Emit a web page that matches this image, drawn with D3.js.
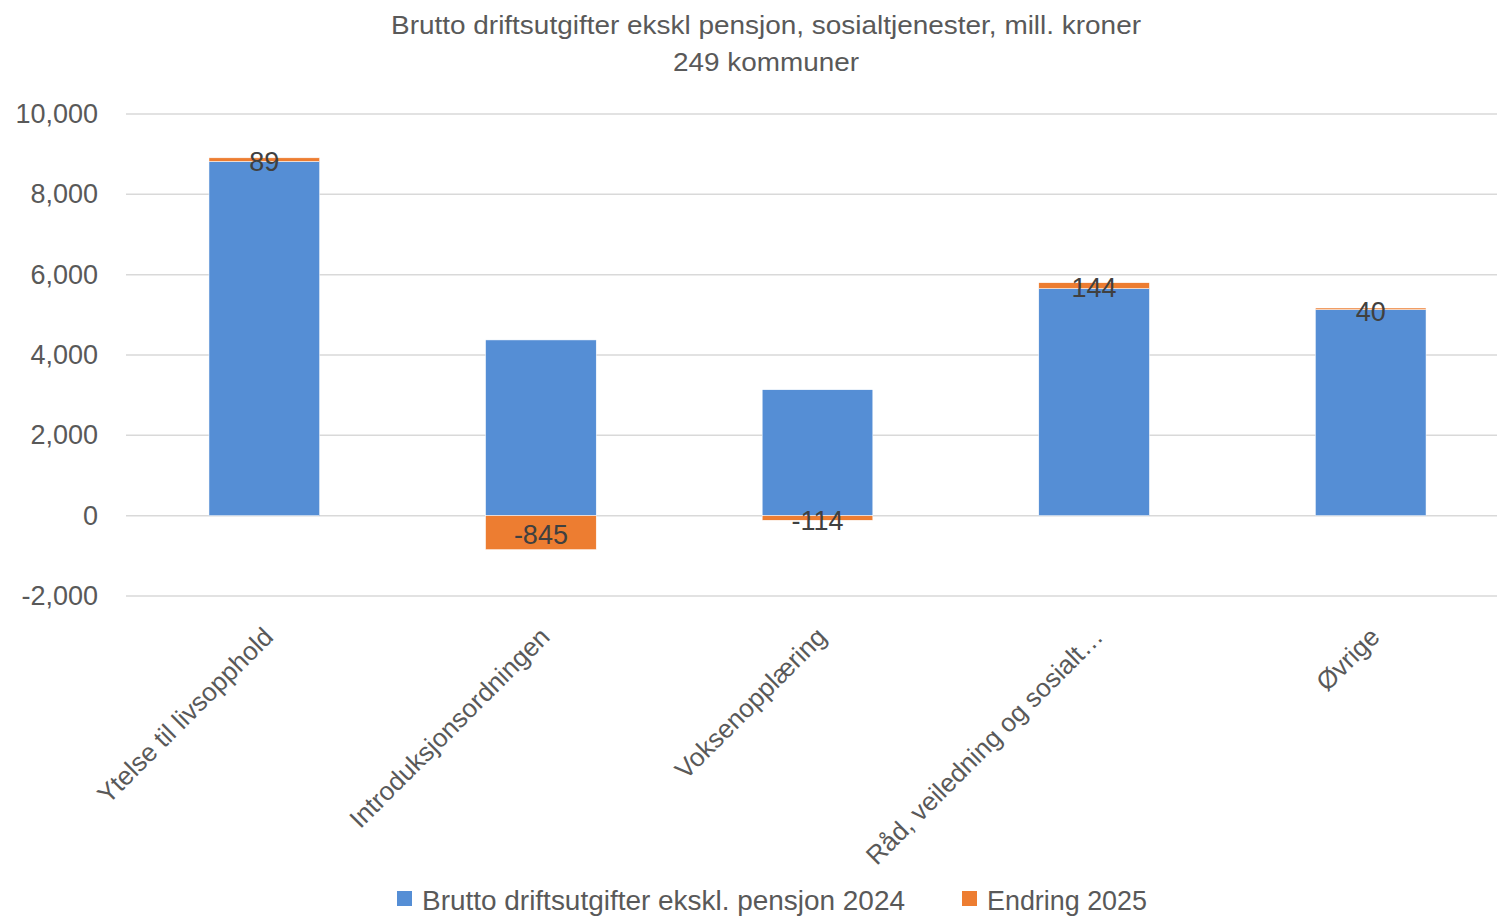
<!DOCTYPE html>
<html>
<head>
<meta charset="utf-8">
<script src="https://cdn.jsdelivr.net/npm/d3@7"></script>
<style>
  body { margin: 0; background: #fff; }
  svg text { fill: #595959; }
</style>
</head>
<body>
<div id="chart"></div>
<script>
// data
const categories = ["Ytelse til livsopphold", "Introduksjonsordningen", "Voksenopplæring", "Råd, veiledning og sosialt…", "Øvrige"];
const base2024 = [8820, 4375, 3135, 5655, 5130];
const change2025 = [89, -845, -114, 144, 40];
const yTicks = [-2000, 0, 2000, 4000, 6000, 8000, 10000];
const seriesNames = ["Brutto driftsutgifter ekskl. pensjon 2024", "Endring 2025"];
const colors = ["#558ED5", "#ED7D31"];

const W = 1497, H = 916;
const font = "'Liberation Sans', Arial, sans-serif";

const svg = d3.select("#chart").append("svg")
    .attr("width", W)
    .attr("height", H);

const x = d3.scaleBand()
    .domain(categories)
    .range([126, 1509])
    .paddingInner(0.6)
    .paddingOuter(0.3);

const y = d3.scaleLinear()
    .domain([-2000, 10000])
    .range([596, 114]);

// title
svg.append("text")
    .attr("x", 766).attr("y", 34)
    .attr("text-anchor", "middle")
    .style("font-family", font)
    .style("font-size", "26px")
    .attr("textLength", 750)
    .attr("lengthAdjust", "spacingAndGlyphs")
    .text("Brutto driftsutgifter ekskl pensjon, sosialtjenester, mill. kroner");
svg.append("text")
    .attr("x", 766).attr("y", 71)
    .attr("text-anchor", "middle")
    .style("font-family", font)
    .style("font-size", "26px")
    .attr("textLength", 186)
    .attr("lengthAdjust", "spacingAndGlyphs")
    .text("249 kommuner");

// grid
svg.append("g")
    .selectAll("line")
    .data(yTicks)
    .enter().append("line")
    .attr("x1", 126).attr("x2", 1509)
    .attr("y1", d => y(d)).attr("y2", d => y(d))
    .attr("stroke", "#d9d9d9")
    .attr("stroke-width", 1.5);

// y axis labels
const yAxis = svg.append("g")
    .attr("transform", "translate(98,0)")
    .call(d3.axisLeft(y).tickValues(yTicks).tickSize(0).tickPadding(0)
        .tickFormat(d => d3.format(",")(d).replace("−", "-")));
yAxis.select(".domain").remove();
yAxis.selectAll("text")
    .style("font-family", font)
    .style("font-size", "27px")
    .style("fill", "#595959");

// stack: positive values stack up, negative down from zero
const rows = categories.map((c, i) => ({ cat: c, base: base2024[i], change: change2025[i] }));
const stack = d3.stack()
    .keys(["base", "change"])
    .offset(d3.stackOffsetDiverging);
const layers = stack(rows);

const bars = svg.append("g")
    .selectAll("g")
    .data(layers)
    .enter().append("g")
    .attr("fill", (d, i) => colors[i]);

bars.selectAll("rect")
    .data(d => d)
    .enter().append("rect")
    .attr("x", d => x(d.data.cat))
    .attr("width", x.bandwidth())
    .attr("y", d => y(Math.max(d[0], d[1])))
    .attr("height", d => Math.abs(y(d[0]) - y(d[1])))
    .attr("stroke", "#fff")
    .attr("stroke-width", 0.5);

// labels on change segment
svg.append("g")
    .selectAll("text")
    .data(layers[1])
    .enter().append("text")
    .attr("x", d => x(d.data.cat) + x.bandwidth() / 2)
    .attr("y", d => (y(d[0]) + y(d[1])) / 2 + 2)
    .attr("dy", "0.36em")
    .attr("text-anchor", "middle")
    .style("font-family", font)
    .style("font-size", "27px")
    .style("fill", "#404040")
    .text(d => d.data.change);

// x labels rotated
svg.append("g")
    .selectAll("text")
    .data(categories)
    .enter().append("text")
    .attr("transform", d => "translate(" + (x(d) + x.bandwidth() / 2 + 4) + ",632) rotate(-45)")
    .attr("text-anchor", "end")
    .attr("dy", "0.35em")
    .style("font-family", font)
    .style("font-size", "26px")
    .text(d => d);

// legend
const legend = svg.append("g").selectAll("g")
    .data(seriesNames)
    .enter().append("g")
    .attr("transform", (d, i) => "translate(" + [397, 962][i] + ",0)");
legend.append("rect")
    .attr("x", 0).attr("y", 891)
    .attr("width", 15).attr("height", 15)
    .attr("fill", (d, i) => colors[i]);
legend.append("text")
    .attr("x", 25).attr("y", 901)
    .attr("dy", "0.35em")
    .style("font-family", font)
    .style("font-size", "27px")
    .attr("textLength", (d, i) => [483, 160][i])
    .attr("lengthAdjust", "spacingAndGlyphs")
    .text(d => d);
</script>
</body>
</html>
